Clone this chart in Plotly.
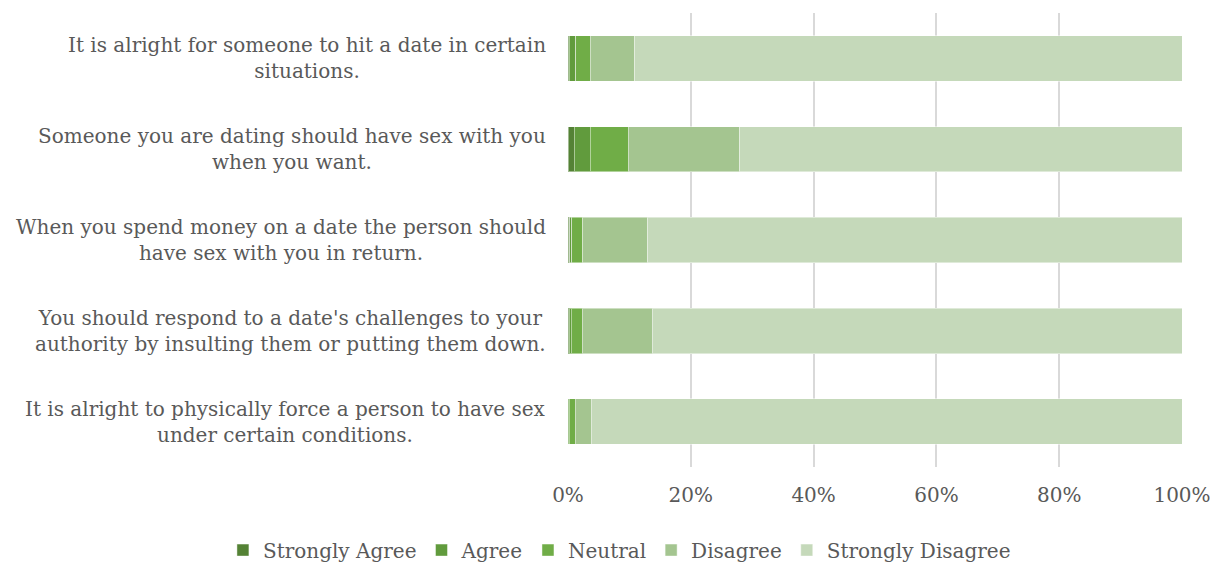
import plotly.graph_objects as go

# statements, top to bottom as shown
statements = [
    "It is alright for someone to hit a date in certain<br>situations.",
    "Someone you are dating should have sex with you<br>when you want.",
    "When you spend money on a date the person should<br>have sex with you in return.",
    "You should respond to a date's challenges to your<br>authority by insulting them or putting them down.",
    "It is alright to physically force a person to have sex<br>under certain conditions.",
]

# share of responses (%), same order as statements
strongly_agree = [0.2, 1.0, 0.3, 0.2, 0.0]
agree = [1.1, 2.6, 0.3, 0.3, 0.2]
neutral = [2.3, 6.2, 1.8, 1.8, 1.0]
disagree = [7.3, 18.2, 10.6, 11.4, 2.6]
strongly_disagree = [89.1, 72.0, 87.0, 86.3, 96.2]

series = [
    ("Strongly Agree", strongly_agree, "#548235"),
    ("Agree", agree, "#619b3d"),
    ("Neutral", neutral, "#70ad47"),
    ("Disagree", disagree, "#a4c590"),
    ("Strongly Disagree", strongly_disagree, "#c5d9ba"),
]

FONT = "DejaVu Serif"
GREY = "#595959"

fig = go.Figure()
for name, vals, color in series:
    fig.add_trace(go.Bar(
        y=list(range(len(statements))),
        x=[v / 100 for v in vals],
        name=name,
        orientation="h",
        marker=dict(color=color, line=dict(color="rgba(255,255,255,0.45)", width=1)),
        hovertemplate=name + ": %{x:.1%}<extra></extra>",
    ))

# centred two-line category labels (tick labels can't be centre aligned)
for i, text in enumerate(statements):
    fig.add_annotation(
        x=0, y=i, xref="paper", yref="y",
        text=text, showarrow=False,
        xanchor="right", yanchor="middle", align="center",
        xshift=-20,
        font=dict(family=FONT, size=20, color=GREY),
    )

# page body adds an 8px offset, so the figure is 8px smaller than the window
fig.update_layout(
    barmode="stack",
    bargap=0.5,
    width=1212,
    height=555,
    margin=dict(l=560, r=38, t=5, b=96, autoexpand=False),
    paper_bgcolor="white",
    plot_bgcolor="white",
    font=dict(family=FONT, size=20, color=GREY),
    xaxis=dict(
        range=[0, 1],
        dtick=0.2,
        tickformat=".0%",
        showgrid=True,
        gridcolor="#d9d9d9",
        gridwidth=1.5,
        zeroline=False,
        showline=False,
        ticklabelstandoff=14,
        tickfont=dict(family=FONT, size=20, color=GREY),
    ),
    yaxis=dict(
        autorange="reversed",
        showticklabels=False,
        showgrid=False,
        zeroline=False,
    ),
    legend=dict(
        orientation="h",
        x=-0.562, y=-0.183, xanchor="left", yanchor="middle",
        traceorder="normal",
        bgcolor="rgba(0,0,0,0)",
        font=dict(family=FONT, size=20, color=GREY),
        itemwidth=30,
    ),
    showlegend=True,
)

fig.write_html("out.html")
